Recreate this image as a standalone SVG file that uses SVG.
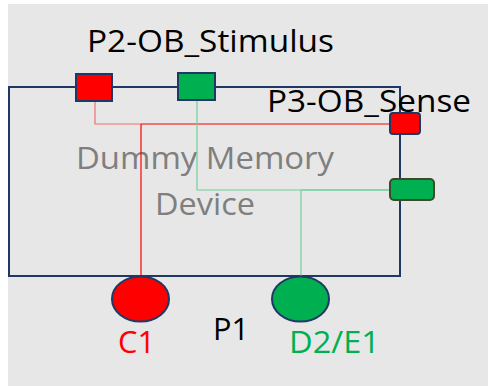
<svg xmlns="http://www.w3.org/2000/svg" width="488" height="386" viewBox="0 0 488 386">
<style>
text{font-family:"Open Sans","Liberation Sans",Arial,sans-serif;}
.lbl{font-size:31px;fill:#000;}
.dev{font-size:31px;fill:#7f7f7f;text-anchor:middle;}
.port{stroke:#1f3864;stroke-width:2;}
.w{fill:none;stroke-width:1.2;}
</style>
<rect x="0" y="0" width="488" height="386" fill="#ffffff"/>
<rect x="8" y="4" width="480" height="382" fill="#e7e7e7"/>
<g id="device">
<rect x="9" y="87" width="391" height="189" fill="none" stroke="#1f3864" stroke-width="2"/>
<text class="dev" x="205" y="169" textLength="258" lengthAdjust="spacingAndGlyphs">Dummy Memory</text>
<text class="dev" x="205" y="215" textLength="100" lengthAdjust="spacingAndGlyphs">Device</text>
</g>
<g id="connectors">
<polyline class="w" stroke="#f07070" points="95,101 95,124 141,124"/>
<polyline class="w" stroke="#ff0000" points="141,124 390,124"/>
<polyline class="w" stroke="#ff0000" points="141,124 141,277"/>
<polyline class="w" stroke="#70d098" points="197,100 197,190 301,190"/>
<polyline class="w" stroke="#30c070" points="301,190 390,190"/>
<polyline class="w" stroke="#70d098" points="301,190 301,277"/>
</g>
<g id="p2-red">
<rect class="port" x="76" y="74" width="36" height="27" fill="#ff0000"/>
</g>
<g id="p2-green">
<rect class="port" x="178" y="73" width="37" height="27" fill="#00b050"/>
</g>
<g id="p2-label">
<text class="lbl" x="87" y="52" textLength="247" lengthAdjust="spacingAndGlyphs">P2-OB_Stimulus</text>
</g>
<g id="p3-label">
<text class="lbl" x="267" y="112" textLength="204" lengthAdjust="spacingAndGlyphs">P3-OB_Sense</text>
</g>
<g id="p3-red">
<rect class="port" x="390" y="113" width="30" height="21" rx="3" fill="#ff0000"/>
</g>
<g id="p3-green">
<rect x="390" y="179" width="44" height="21" rx="4" fill="#00b050" stroke="#3b4a2a" stroke-width="2"/>
</g>
<g id="c1">
<ellipse class="port" cx="140.5" cy="299" rx="28.5" ry="22.5" fill="#ff0000"/>
<text x="118" y="353" font-size="31" fill="#ff0000" textLength="37" lengthAdjust="spacingAndGlyphs">C1</text>
</g>
<g id="p1">
<text x="213" y="340" font-size="31" fill="#000" textLength="36" lengthAdjust="spacingAndGlyphs">P1</text>
</g>
<g id="d2e1">
<ellipse class="port" cx="300.5" cy="299" rx="28.5" ry="22.5" fill="#00b050"/>
<text x="289" y="353" font-size="31" fill="#00b050" textLength="91" lengthAdjust="spacingAndGlyphs">D2/E1</text>
</g>
</svg>
